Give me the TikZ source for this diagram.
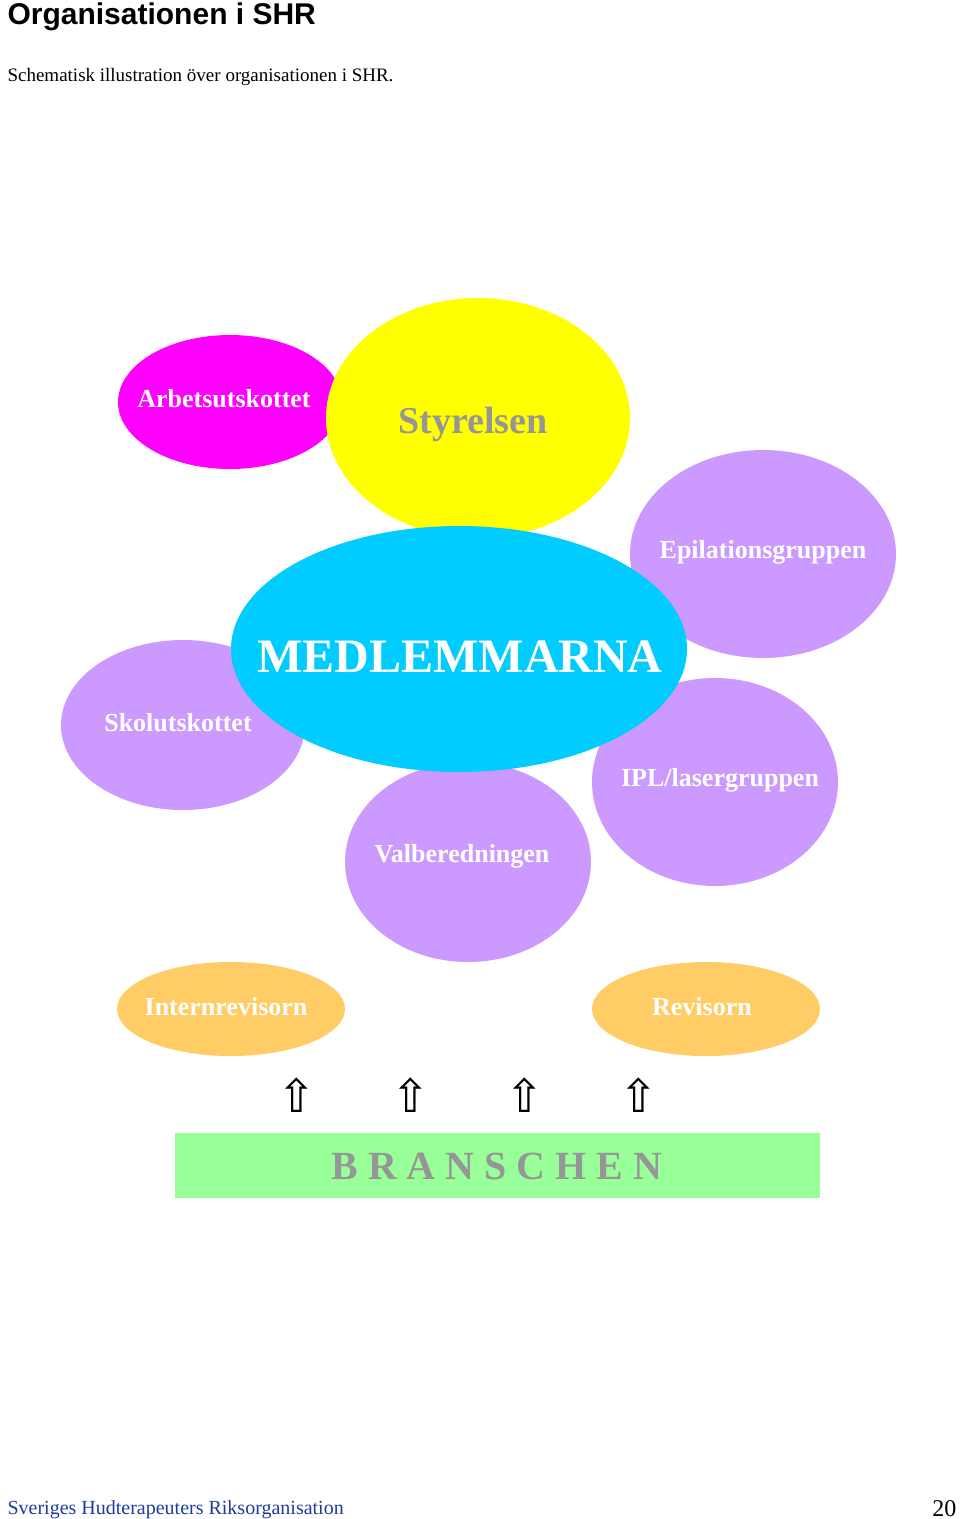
\documentclass[tikz,border=0pt]{standalone}
\usepackage{fontspec}
\setmainfont{Liberation Serif}
\newfontfamily\arialfont{Liberation Sans}
\newfontfamily\symfont{DejaVu Sans}
\usepackage{tikz}
\usetikzlibrary{shapes.geometric, positioning}
\definecolor{shrmagenta}{RGB}{255,0,255}
\definecolor{shryellow}{RGB}{255,255,0}
\definecolor{shrcyan}{RGB}{0,204,255}
\definecolor{shrlilac}{RGB}{204,153,255}
\definecolor{shrorange}{RGB}{255,204,102}
\definecolor{shrgreen}{RGB}{153,255,153}
\definecolor{shrgrey}{RGB}{150,150,150}
\definecolor{shrblue}{RGB}{30,60,160}

\begin{document}
\begin{tikzpicture}[
    x=1pt, y=-1pt,
    blob/.style={ellipse, inner sep=0pt},
    blobtext/.style={font=\fontsize{26}{30}\selectfont\bfseries, text=white}
]

\useasboundingbox[fill=white] (0,0) rectangle (960,1519);

% Heading
\node[anchor=base west, font=\arialfont\fontsize{30}{34}\selectfont\bfseries] (title) at (4,24) {Organisationen i SHR};
\node[anchor=base west, font=\fontsize{19}{22}\selectfont] (subtitle) at (4,81) {Schematisk illustration över organisationen i SHR.};

% Groups
\node[blob, fill=shrmagenta, minimum width=224, minimum height=134] (au) at (230,402) {};
\node[blob, fill=shryellow, minimum width=304, minimum height=240] (styr) at (478,418) {};
\node[blob, fill=shrlilac, minimum width=266, minimum height=208] (epil) at (763,554) {};
\node[blob, fill=shrlilac, minimum width=244, minimum height=170] (skol) at (183,725) {};
\node[blob, fill=shrlilac, minimum width=246, minimum height=208] (ipl) at (715,782) {};
\node[blob, fill=shrlilac, minimum width=246, minimum height=200] (valb) at (468,862) {};
\node[blob, fill=shrcyan, minimum width=456, minimum height=246] (medl) at (459,649) {};

% Labels
\node[blobtext] at (224,399) {Arbetsutskottet};
\node[blobtext, text=shrgrey, font=\fontsize{38}{42}\selectfont\bfseries] at (473,424) {Styrelsen};
\node[blobtext] at (763,552) {Epilationsgruppen};
\node[blobtext] at (178,723) {Skolutskottet};
\node[blobtext, font=\fontsize{48}{52}\selectfont\bfseries] at (460,657) {MEDLEMMARNA};
\node[blobtext] at (720,780) {IPL/lasergruppen};
\node[blobtext] at (462,856) {Valberedningen};

% Audit
\node[blob, fill=shrorange, minimum width=228, minimum height=94] (intrev) at (231,1009) {};
\node[blob, fill=shrorange, minimum width=228, minimum height=94] (rev) at (706,1009) {};
\node[blobtext] at (226,1007) {Internrevisorn};
\node[blobtext] at (702,1007) {Revisorn};

% Arrows
\foreach \ax in {297,411,525,639}
  \node[font=\symfont\fontsize{46}{50}\selectfont] at (\ax,1095) {⇧};

% Branschen
\fill[shrgreen] (175,1133) rectangle (820,1198);
\node[font=\fontsize{40}{44}\selectfont\bfseries, text=shrgrey] (bransch) at (497,1166) {B R A N S C H E N};

% Footer
\node[anchor=base west, text=shrblue, font=\fontsize{20}{24}\selectfont] (footer) at (4,1514) {Sveriges Hudterapeuters Riksorganisation};
\node[anchor=base east, font=\fontsize{24}{28}\selectfont] (page) at (960,1516) {20};

\end{tikzpicture}
\end{document}
